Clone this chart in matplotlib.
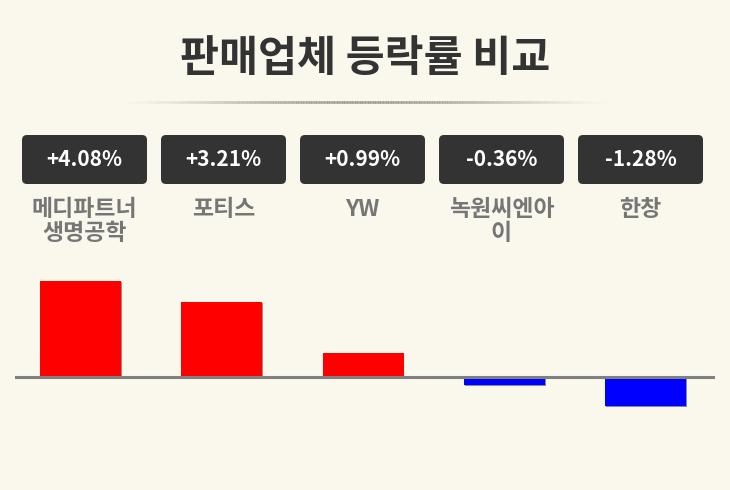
import textwrap
import numpy as np
import matplotlib
matplotlib.use("Agg")
import matplotlib.pyplot as plt
from matplotlib.patches import FancyBboxPatch
from matplotlib.collections import LineCollection
import matplotlib.patheffects as pe

# ---- data ----
title = "판매업체 등락률 비교"
companies = ["메디파트너생명공학", "포티스", "YW", "녹원씨엔아이", "한창"]
changes = [4.08, 3.21, 0.99, -0.36, -1.28]
badge_labels = [f"{v:+.2f}%" for v in changes]

# ---- style / layout ----
W, H = 730, 490
BG = "#FAF7EC"
plt.rcParams['font.family'] = ['Noto Sans CJK KR', 'DejaVu Sans']

fig = plt.figure(figsize=(W / 100, H / 100), dpi=100, facecolor=BG)

# overlay axes in pixel coordinates for layout elements
lay = fig.add_axes([0, 0, 1, 1])
lay.set_xlim(0, W)
lay.set_ylim(H, 0)
lay.axis('off')
lay.patch.set_alpha(0)

# title
lay.text(365, 71, title, fontsize=30.5, fontweight='bold', color='#333333',
         ha='center', va='baseline')

# separator with faded ends
t = np.linspace(0, 1, 300)
xs = 120 + t * (610 - 120)
segs = [[(xs[i], 102.5), (xs[i + 1], 102.5)] for i in range(len(xs) - 1)]
alpha = np.sin(np.pi * (t[:-1] + t[1:]) / 2) ** 1.5
cols = [(0.62, 0.60, 0.56, a) for a in alpha]
lay.add_collection(LineCollection(segs, colors=cols, linewidths=2.0))

# badges + company labels
for i, lab in enumerate(badge_labels):
    x0 = 22 + 139 * i
    lay.add_patch(FancyBboxPatch((x0, 135), 125, 49,
                                 boxstyle="round,pad=0,rounding_size=5",
                                 fc='#333333', ec='none'))
    lay.text(x0 + 62.5, 165.5, lab, color='white', fontsize=15,
             ha='center', va='baseline', fontweight='bold')
    for j, line in enumerate(textwrap.wrap(companies[i], 5)):
        lay.text(x0 + 62.5, 215.5 + 24.5 * j, line, color='#767676',
                 fontsize=16.5, ha='center', va='baseline', fontweight='bold')

# bar axes
ax_top, ax_bot, ax_l, ax_r = 260, 420, 15, 715
ax = fig.add_axes([ax_l / W, 1 - ax_bot / H, (ax_r - ax_l) / W, (ax_bot - ax_top) / H])
ax.patch.set_alpha(0)
ax.axis('off')
n = len(changes)
x = np.arange(n)
slot = 141.25          # px per category
ax.set_xlim(-(80.5 - ax_l) / slot, n - 1 + (ax_r - 645.5) / slot)
pxper = 23.3           # px per percent
zero = 376.5
ax.set_ylim(-(ax_bot - zero) / pxper, (zero - ax_top) / pxper)

colors = ['#FF0000' if v >= 0 else '#0000FF' for v in changes]
bars = ax.bar(x, changes, width=81 / slot, color=colors, zorder=2)
for b in bars:
    b.set_path_effects([pe.SimplePatchShadow(offset=(0.7, -0.7), alpha=0.45),
                        pe.Normal()])
ax.axhline(0, color='#808080', lw=2.2, zorder=3)

fig.savefig("out.png", dpi=100, facecolor=BG)
